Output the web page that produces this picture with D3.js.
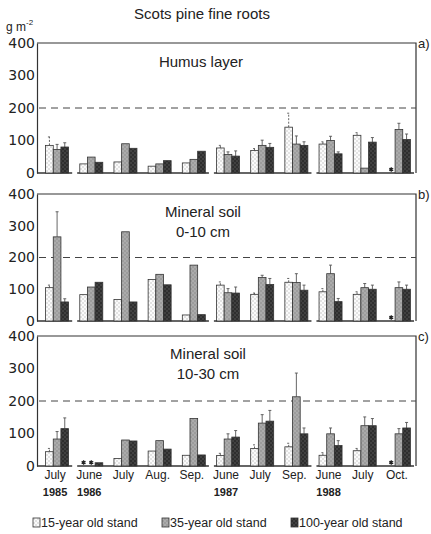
<!DOCTYPE html>
<html>
<head>
<meta charset="utf-8">
<script src="https://cdn.jsdelivr.net/npm/d3@7"></script>
<style>
  body { margin: 0; background: #fff; }
  svg { display: block; }
  text { fill: #222; }
</style>
</head>
<body>
<div id="chart"></div>
<script>
"use strict";

// categories (sampling dates)
var months = ["July", "June", "July", "Aug.", "Sep.", "June", "July", "Sep.", "June", "July", "Oct."];
var years = ["1985", "1986", "", "", "", "1987", "", "", "1988", "", ""];
var stands = ["15-year old stand", "35-year old stand", "100-year old stand"];
var yTicks = [0, 100, 200, 300, 400];

// a) humus layer, g m-2 (null = not sampled, marked with *)
var humus15 = [85, 28, 34, 21, 31, 77, 69, 141, 89, 116, null];
var humus35 = [72, 49, 90, 28, 42, 57, 85, 89, 100, 15, 134];
var humus100 = [80, 33, 76, 38, 67, 52, 79, 85, 59, 95, 103];
var humus15Err = [111, null, null, null, null, 85, 75, 184, 96, 124, null];
var humus35Err = [88, null, null, null, null, 65, 101, 114, 113, null, 153];
var humus100Err = [93, null, null, null, null, 68, 91, 96, 65, 109, 120];

// b) mineral soil 0-10 cm
var min10_15 = [105, 83, 68, 131, 19, 113, 84, 122, 92, 84, null];
var min10_35 = [265, 107, 281, 147, 176, 89, 137, 121, 149, 105, 105];
var min10_100 = [60, 122, 60, 114, 20, 88, 115, 97, 61, 100, 100];
var min10_15Err = [113, null, null, null, null, 123, 88, 134, 102, 92, null];
var min10_35Err = [344, null, null, null, null, 102, 144, 149, 176, 118, 123];
var min10_100Err = [70, null, null, null, null, 107, 134, 113, 71, 113, 113];

// c) mineral soil 10-30 cm
var min30_15 = [44, null, 23, 46, 33, 32, 54, 59, 33, 47, null];
var min30_35 = [83, null, 80, 78, 146, 83, 132, 213, 99, 124, 99];
var min30_100 = [115, 10, 77, 52, 34, 89, 138, 99, 63, 124, 117];
var min30_15Err = [54, null, null, null, null, 39, 65, 70, 41, 54, null];
var min30_35Err = [106, null, null, null, null, 99, 158, 286, 117, 151, 115];
var min30_100Err = [148, null, null, null, null, 109, 171, 117, 78, 146, 134];

var panels = [
    { label: "a)", title: ["Humus layer"], values: [humus15, humus35, humus100],
      errors: [humus15Err, humus35Err, humus100Err], top: 43, bottom: 173, titleY: 67, titleX: 201 },
    { label: "b)", title: ["Mineral soil", "0-10 cm"], values: [min10_15, min10_35, min10_100],
      errors: [min10_15Err, min10_35Err, min10_100Err], top: 194, bottom: 321, titleY: 217, titleX: 203 },
    { label: "c)", title: ["Mineral soil", "10-30 cm"], values: [min30_15, min30_35, min30_100],
      errors: [min30_15Err, min30_35Err, min30_100Err], top: 336, bottom: 466, titleY: 359, titleX: 208 }
];

var width = 431, height = 534;
var left = 37, right = 416;

var svg = d3.select("#chart").append("svg")
    .attr("width", width)
    .attr("height", height)
    .style("font-family", "'Liberation Sans', Arial, sans-serif");

// speckled fills, like the scanned original
var defs = svg.append("defs");
var fills = [
    { id: "f15", base: "#fbfbfb", dot: "#9a9a9a" },
    { id: "f35", base: "#9c9c9c", dot: "#d8d8d8" },
    { id: "f100", base: "#2e2e2e", dot: "#777" }
];
fills.forEach(function (f) {
    var p = defs.append("pattern")
        .attr("id", f.id)
        .attr("patternUnits", "userSpaceOnUse")
        .attr("width", 4).attr("height", 4);
    p.append("rect").attr("width", 4).attr("height", 4).attr("fill", f.base);
    p.append("rect").attr("x", 0.5).attr("y", 0.5).attr("width", 1).attr("height", 1).attr("fill", f.dot);
    p.append("rect").attr("x", 2.5).attr("y", 2.5).attr("width", 1).attr("height", 1).attr("fill", f.dot);
});

var x = d3.scaleBand()
    .domain(d3.range(months.length))
    .range([40, right])
    .padding(0);

var xInner = d3.scaleBand()
    .domain(d3.range(stands.length))
    .range([x.bandwidth() / 2 - 11.5, x.bandwidth() / 2 + 11.5])
    .padding(0);

// groups of months belonging to one year, for the broken baseline
var yearGroups = [];
years.forEach(function (yr, i) {
    if (yr !== "" || i === 0) yearGroups.push([i, i]);
    else yearGroups[yearGroups.length - 1][1] = i;
});

var star = d3.symbol().type(d3.symbolAsterisk).size(14);

svg.append("text")
    .attr("x", 202).attr("y", 19)
    .attr("text-anchor", "middle")
    .style("font-size", "15px")
    .text("Scots pine fine roots");

var unit = svg.append("text")
    .attr("x", 6).attr("y", 31)
    .style("font-size", "12px");
unit.append("tspan").text("g m");
unit.append("tspan").attr("dy", -6).style("font-size", "8px").text("-2");

panels.forEach(function (pn) {
    var y = d3.scaleLinear().domain([0, 400]).range([pn.bottom, pn.top]);
    var g = svg.append("g");

    // frame: top and right
    g.append("path")
        .attr("d", "M" + left + "," + y(400) + "H" + right + "V" + y(0))
        .attr("fill", "none")
        .attr("stroke", "#333")
        .attr("stroke-width", 1.2);

    var axis = g.append("g")
        .attr("transform", "translate(" + left + ",0)")
        .call(d3.axisLeft(y).tickValues(yTicks).tickSize(0).tickSizeOuter(0).tickPadding(2));
    axis.select(".domain").attr("stroke", "#333").attr("stroke-width", 1.2);
    axis.selectAll("text")
        .style("font-family", "'DejaVu Sans', sans-serif")
        .style("font-size", "14px")
        .attr("fill", "#222");

    g.append("line")
        .attr("x1", left + 2).attr("x2", right)
        .attr("y1", y(200)).attr("y2", y(200))
        .attr("stroke", "#444")
        .attr("stroke-width", 1)
        .attr("stroke-dasharray", "7,5");

    g.selectAll(".base")
        .data(yearGroups)
        .enter().append("line")
        .attr("x1", function (d, i) { return i === 0 ? left : x(d[0]) + 3; })
        .attr("x2", function (d) { return x(d[1]) + x.bandwidth() - 2; })
        .attr("y1", y(0)).attr("y2", y(0))
        .attr("stroke", "#333")
        .attr("stroke-width", 1.4);

    pn.values.forEach(function (vals, s) {
        var bw = xInner.bandwidth();
        var cells = vals.map(function (v, i) { return { i: i, v: v, e: pn.errors[s][i] }; });

        g.selectAll(".err" + s)
            .data(cells.filter(function (d) { return d.v !== null && d.e !== null; }))
            .enter().append("path")
            .attr("d", function (d) {
                var cx = x(d.i) + xInner(s) + bw / 2;
                return "M" + cx + "," + y(d.v) + "V" + y(d.e) + "M" + (cx - 1.5) + "," + y(d.e) + "H" + (cx + 1.5);
            })
            .attr("stroke", "#555")
            .attr("stroke-width", 0.9)
            .attr("stroke-dasharray", s === 0 ? "2,1.5" : null)
            .attr("fill", "none");

        g.selectAll(".bar" + s)
            .data(cells.filter(function (d) { return d.v !== null; }))
            .enter().append("rect")
            .attr("x", function (d) { return x(d.i) + xInner(s); })
            .attr("width", bw)
            .attr("y", function (d) { return y(d.v); })
            .attr("height", function (d) { return y(0) - y(d.v); })
            .attr("fill", "url(#" + fills[s].id + ")")
            .attr("stroke", "#333")
            .attr("stroke-width", 0.8);

        // missing samples: asterisk on the baseline
        g.selectAll(".miss" + s)
            .data(cells.filter(function (d) { return d.v === null; }))
            .enter().append("path")
            .attr("transform", function (d) {
                return "translate(" + (x(d.i) + xInner(s) + bw / 2) + "," + (y(0) - 3.5) + ")";
            })
            .attr("d", star)
            .attr("fill", "none")
            .attr("stroke", "#222")
            .attr("stroke-width", 1.3);
    });

    g.append("text")
        .attr("x", pn.titleX).attr("y", pn.titleY)
        .attr("text-anchor", "middle")
        .style("font-size", "15px")
        .selectAll("tspan")
        .data(pn.title)
        .enter().append("tspan")
        .attr("x", pn.titleX)
        .attr("dy", function (d, i) { return i === 0 ? 0 : 20; })
        .text(function (d) { return d; });

    g.append("text")
        .attr("x", right + 2).attr("y", y(400) + 5)
        .style("font-size", "13px")
        .text(pn.label);
});

var last = panels[panels.length - 1];
svg.selectAll(".month")
    .data(months)
    .enter().append("text")
    .attr("x", function (d, i) { return x(i) + x.bandwidth() / 2 - 2; })
    .attr("y", last.bottom + 13)
    .attr("text-anchor", "middle")
    .style("font-size", "12px")
    .text(function (d) { return d; });

svg.selectAll(".year")
    .data(years)
    .enter().append("text")
    .attr("x", function (d, i) { return x(i) + x.bandwidth() / 2 - 2; })
    .attr("y", last.bottom + 30)
    .attr("text-anchor", "middle")
    .style("font-size", "11px")
    .style("font-weight", "bold")
    .text(function (d) { return d; });

var legendX = [33, 162, 291];
var legend = svg.selectAll(".legend")
    .data(stands)
    .enter().append("g")
    .attr("transform", function (d, i) { return "translate(" + legendX[i] + ",518)"; });
legend.append("rect")
    .attr("width", 7).attr("height", 9)
    .attr("fill", function (d, i) { return "url(#" + fills[i].id + ")"; })
    .attr("stroke", "#333")
    .attr("stroke-width", 0.8);
legend.append("text")
    .attr("x", 8).attr("y", 9)
    .style("font-size", "12.5px")
    .text(function (d) { return d; });
</script>
</body>
</html>
